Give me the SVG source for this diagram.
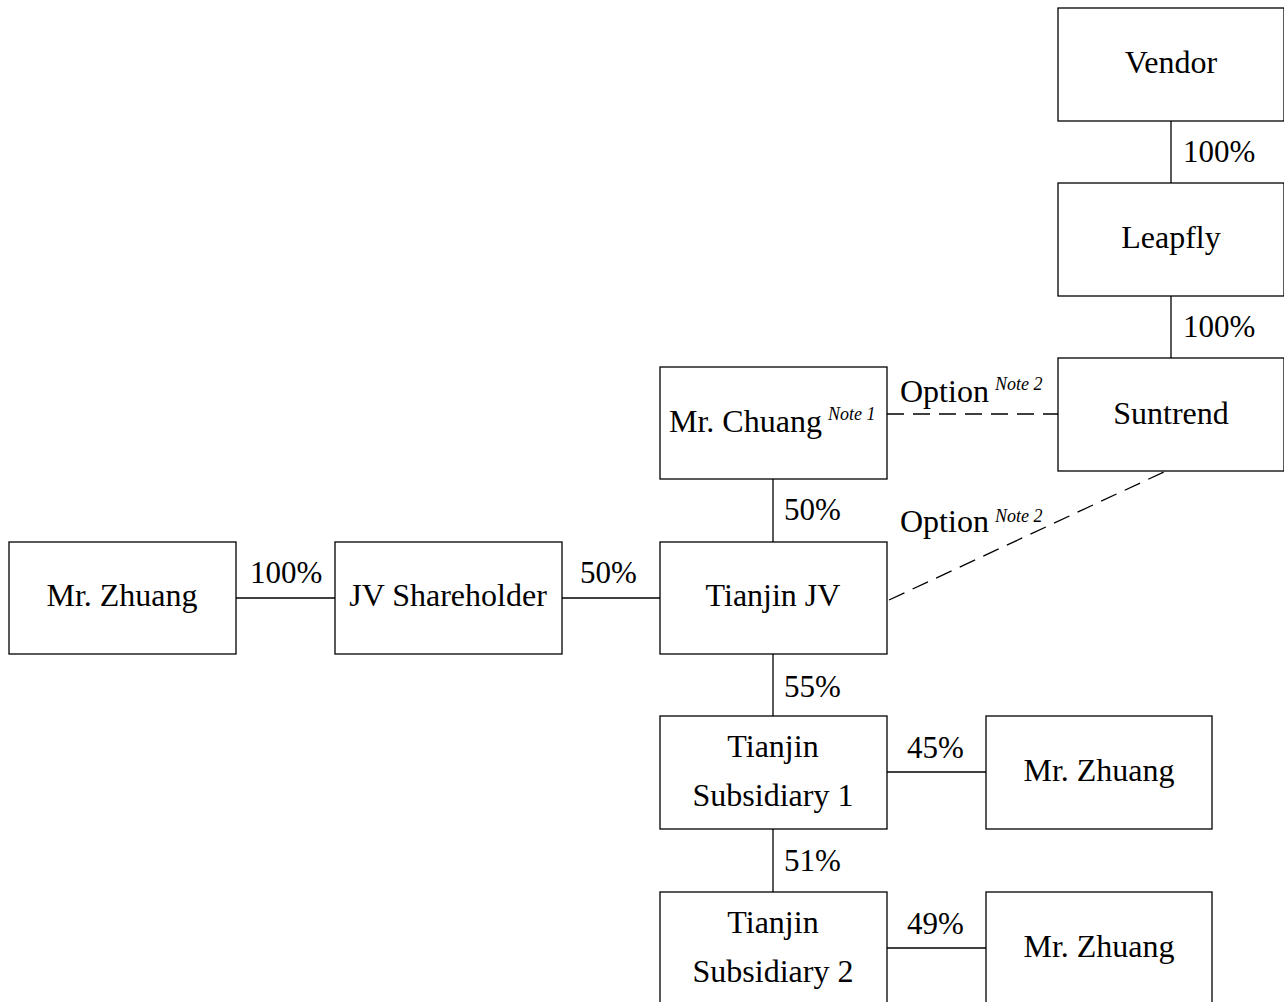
<svg xmlns="http://www.w3.org/2000/svg" width="1284" height="1002" viewBox="0 0 1284 1002">
<style>
.box{fill:#fff;stroke:#000;stroke-width:1.3}
.t{font-family:"Liberation Serif","Times New Roman",serif;font-size:32px;fill:#000}
.p{font-family:"Liberation Serif","Times New Roman",serif;font-size:31px;fill:#000}
.c{text-anchor:middle}
.n{font-family:"Liberation Serif","Times New Roman",serif;font-size:18px;font-style:italic;fill:#000}
.ln{stroke:#000;stroke-width:1.3;fill:none}
.dash{stroke:#000;stroke-width:1.3;fill:none;stroke-dasharray:17 9}
</style>
<rect width="1284" height="1002" fill="#fff"/>
<g id="connectors">
<line class="ln" x1="1171" y1="121" x2="1171" y2="183"/>
<line class="ln" x1="1171" y1="296" x2="1171" y2="358"/>
<line class="ln" x1="773" y1="479" x2="773" y2="542"/>
<line class="ln" x1="236" y1="598" x2="335" y2="598"/>
<line class="ln" x1="562" y1="598" x2="660" y2="598"/>
<line class="ln" x1="773" y1="654" x2="773" y2="716"/>
<line class="ln" x1="887" y1="772" x2="986" y2="772"/>
<line class="ln" x1="773" y1="829" x2="773" y2="892"/>
<line class="ln" x1="887" y1="948" x2="986" y2="948"/>
<line class="dash" x1="887" y1="414" x2="1058" y2="414"/>
<line class="dash" x1="889" y1="600" x2="1166" y2="471"/>
<text class="p" x="1183" y="162">100%</text>
<text class="p" x="1183" y="337">100%</text>
<text class="p" x="784" y="520">50%</text>
<text class="p" x="250" y="583">100%</text>
<text class="p" x="580" y="583">50%</text>
<text class="p" x="784" y="697">55%</text>
<text class="p" x="907" y="758">45%</text>
<text class="p" x="784" y="871">51%</text>
<text class="p" x="907" y="934">49%</text>
<text class="t" x="900" y="402">Option</text>
<text class="n" x="995" y="390">Note 2</text>
<text class="t" x="900" y="532">Option</text>
<text class="n" x="995" y="522">Note 2</text>
</g>
<g id="vendor"><rect class="box" x="1058" y="8" width="226" height="113"/><text class="t c" x="1171" y="73">Vendor</text></g>
<g id="leapfly"><rect class="box" x="1058" y="183" width="226" height="113"/><text class="t c" x="1171" y="248">Leapfly</text></g>
<g id="suntrend"><rect class="box" x="1058" y="358" width="226" height="113"/><text class="t c" x="1171" y="424">Suntrend</text></g>
<g id="chuang"><rect class="box" x="660" y="367" width="227" height="112"/><text class="t" x="669" y="432">Mr. Chuang</text><text class="n" x="828" y="420">Note 1</text></g>
<g id="tianjin-jv"><rect class="box" x="660" y="542" width="227" height="112"/><text class="t c" x="773" y="606">Tianjin JV</text></g>
<g id="zhuang-1"><rect class="box" x="9" y="542" width="227" height="112"/><text class="t c" x="122" y="606">Mr. Zhuang</text></g>
<g id="jv-shareholder"><rect class="box" x="335" y="542" width="227" height="112"/><text class="t c" x="448" y="606">JV Shareholder</text></g>
<g id="sub1"><rect class="box" x="660" y="716" width="227" height="113"/><text class="t c" x="773" y="757">Tianjin</text><text class="t c" x="773" y="806">Subsidiary 1</text></g>
<g id="zhuang-2"><rect class="box" x="986" y="716" width="226" height="113"/><text class="t c" x="1099" y="781">Mr. Zhuang</text></g>
<g id="sub2"><rect class="box" x="660" y="892" width="227" height="113"/><text class="t c" x="773" y="933">Tianjin</text><text class="t c" x="773" y="982">Subsidiary 2</text></g>
<g id="zhuang-3"><rect class="box" x="986" y="892" width="226" height="113"/><text class="t c" x="1099" y="957">Mr. Zhuang</text></g>
</svg>
